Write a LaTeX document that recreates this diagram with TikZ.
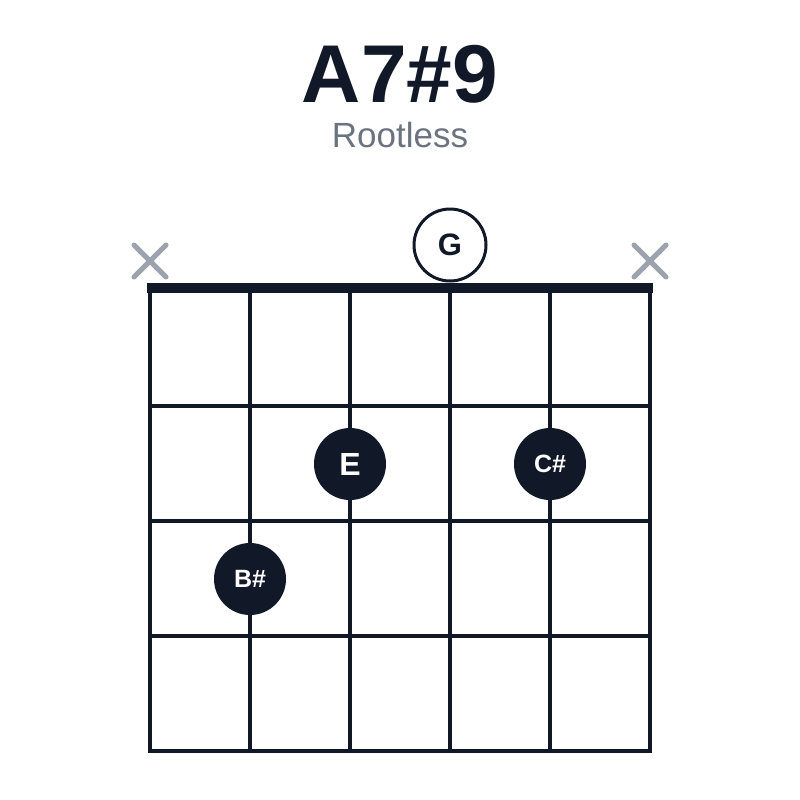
\documentclass[tikz,border=0pt]{standalone}
\usepackage{fontspec}
\setmainfont{Liberation Sans}
\definecolor{ink}{HTML}{111827}
\definecolor{subgray}{HTML}{6B7280}
\definecolor{mutegray}{HTML}{9CA3AF}

\begin{document}
\begin{tikzpicture}[x=1pt,y=-1pt,
	fingerdot/.style={circle, fill=ink, inner sep=0pt, minimum size=72pt, text=white},
	opendot/.style={circle, draw=ink, line width=3pt, fill=white, inner sep=0pt, minimum size=72pt, text=ink},
	mutex/.style={mutegray, line width=5pt, line cap=round}]

	\useasboundingbox (0,0) rectangle (800,800);

	% title
	\node[anchor=base, text=ink, font=\fontsize{82}{82}\selectfont\bfseries] (title) at (400,102) {A7\#9};
	\node[anchor=base, text=subgray, font=\fontsize{35}{35}\selectfont] (subtitle) at (400,147) {Rootless};

	% points
	\coordinate (TL) at (150,288);
	\coordinate (BR) at (650,751);

	% strings and frets
	\draw[ink, line width=3.5pt] (TL) rectangle (BR);
	\draw[ink, line width=3.5pt] (250,288) -- (250,751);
	\draw[ink, line width=3.5pt] (350,288) -- (350,751);
	\draw[ink, line width=3.5pt] (450,288) -- (450,751);
	\draw[ink, line width=3.5pt] (550,288) -- (550,751);
	\draw[ink, line width=3.5pt] (150,406) -- (650,406);
	\draw[ink, line width=3.5pt] (150,521) -- (650,521);
	\draw[ink, line width=3.5pt] (150,636) -- (650,636);

	% nut
	\draw[ink, line width=10pt] (147,288) -- (653,288);

	% muted strings
	\draw[mutex] (134,245) -- (166,277) (134,277) -- (166,245);
	\draw[mutex] (634,245) -- (666,277) (634,277) -- (666,245);

	% open string
	\node[opendot, font=\fontsize{31}{31}\selectfont\bfseries] (G) at (450,245) {G};

	% fretted notes
	\node[fingerdot, font=\fontsize{32}{32}\selectfont\bfseries] (E) at (350,464) {E};
	\node[fingerdot, font=\fontsize{25}{25}\selectfont\bfseries] (Cs) at (550,464) {C\#};
	\node[fingerdot, font=\fontsize{25}{25}\selectfont\bfseries] (Bs) at (250,579) {B\#};

\end{tikzpicture}
\end{document}
